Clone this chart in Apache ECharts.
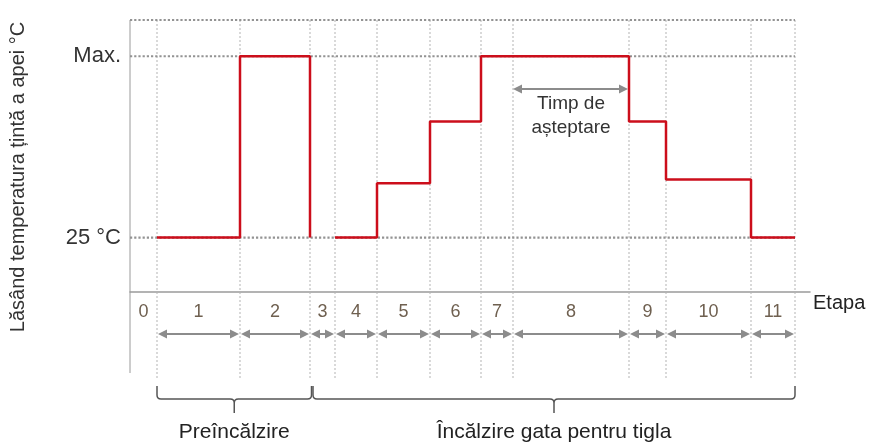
<!DOCTYPE html>
<html>
<head>
<meta charset="utf-8">
<script src="https://cdn.jsdelivr.net/npm/echarts@6/dist/echarts.min.js"></script>
<style>
	html, body { margin: 0; padding: 0; background: #fff; }
	#chart { width: 871px; height: 442px; }
</style>
</head>
<body>
<div id="chart"></div>
<script>
// stage boundaries on the time axis (arbitrary units), stages 0..11
var stageEdges = [0, 27, 110, 180, 205, 247, 300, 351, 383, 499, 536, 621, 665]
var stageNames = ['0', '1', '2', '3', '4', '5', '6', '7', '8', '9', '10', '11']
// target water temperature for each stage, null = no line drawn
var stageTemps = [null, 25, 75, null, 25, 40, 57, 75, 75, 57, 41, 25]
var baseTemp = 25
var tempLabels = { 25: '25 °C', 75: 'Max.' }
var guideLevels = [25, 75, 85]
var phaseNames = ['Preîncălzire', 'Încălzire gata pentru tigla']
var phaseStages = [[1, 2], [3, 11]]
var waitStage = 8
var waitLevel = 66
var waitText = 'Timp de\nașteptare'

var yMin = 10
var yMax = 85
var FONT = '"Liberation Sans", Arial, sans-serif'
var GRAY = '#8c8c8c'

var chart = echarts.init(document.getElementById('chart'))

// step profile, split where a stage has no target
function buildSegments() {
	var segs = []
	var cur = null
	for (var i = 0; i < stageTemps.length; i++) {
		var t = stageTemps[i]
		if (t == null) {
			cur = null
			continue
		}
		if (!cur) {
			cur = []
			segs.push(cur)
		}
		cur.push([stageEdges[i], t], [stageEdges[i + 1], t])
		if (i + 1 < stageTemps.length && stageTemps[i + 1] == null) {
			cur.push([stageEdges[i + 1], baseTemp])
		}
	}
	return segs
}

function arrow(x1, x2, y) {
	var h = 9, w = 4.5
	return {
		type: 'group',
		children: [
			{ type: 'line', shape: { x1: x1 + h - 1, y1: y, x2: x2 - h + 1, y2: y }, style: { stroke: GRAY, lineWidth: 2 } },
			{ type: 'polygon', shape: { points: [[x1, y], [x1 + h, y - w], [x1 + h, y + w]] }, style: { fill: GRAY } },
			{ type: 'polygon', shape: { points: [[x2, y], [x2 - h, y - w], [x2 - h, y + w]] }, style: { fill: GRAY } },
		],
	}
}

function renderEdge(params, api) {
	var x = api.value(0)
	var top = api.coord([x, yMax])
	var bottom = api.coord([x, yMin])
	var first = params.dataIndex === 0
	return {
		type: 'line',
		shape: { x1: top[0], y1: top[1], x2: bottom[0], y2: bottom[1] + (first ? 81 : 86) },
		style: first ? { stroke: '#9a9a9a', lineWidth: 1 } : { stroke: '#b4b4b4', lineWidth: 1, lineDash: [2, 2] },
	}
}

function renderGuide(params, api) {
	var lvl = api.value(1)
	var a = api.coord([0, lvl])
	var b = api.coord([stageEdges[stageEdges.length - 1], lvl])
	return {
		type: 'line',
		shape: { x1: a[0], y1: a[1], x2: b[0], y2: b[1] },
		style: { stroke: '#939393', lineWidth: 2.2, lineDash: [2.2, 2] },
	}
}

function renderStage(params, api) {
	var i = params.dataIndex
	var a = api.coord([stageEdges[i], yMin])
	var b = api.coord([stageEdges[i + 1], yMin])
	var children = [{
		type: 'text',
		x: (a[0] + b[0]) / 2,
		y: a[1] + 20,
		style: { text: stageNames[i], fill: '#6f6050', fontSize: 18, fontFamily: FONT, align: 'center', verticalAlign: 'middle' },
	}]
	if (i > 0) children.push(arrow(a[0] + 1, b[0] - 1, a[1] + 42))
	return { type: 'group', children: children }
}

function renderPhase(params, api) {
	var p = phaseStages[params.dataIndex]
	var a = api.coord([stageEdges[p[0]], yMin])
	var b = api.coord([stageEdges[p[1] + 1], yMin])
	var x0 = a[0] + (params.dataIndex > 0 ? 3 : 0)
	var x1 = b[0] + (params.dataIndex > 0 ? 0 : 1.5)
	var yt = a[1] + 94, ym = a[1] + 107, yb = a[1] + 121, r = 4
	var xm = (x0 + x1) / 2
	var d = 'M' + x0 + ' ' + yt + ' L' + x0 + ' ' + (ym - r) + ' Q' + x0 + ' ' + ym + ' ' + (x0 + r) + ' ' + ym +
		' L' + (xm - r) + ' ' + ym + ' Q' + xm + ' ' + ym + ' ' + xm + ' ' + (ym + r) + ' L' + xm + ' ' + yb +
		' M' + xm + ' ' + (ym + r) + ' Q' + xm + ' ' + ym + ' ' + (xm + r) + ' ' + ym +
		' L' + (x1 - r) + ' ' + ym + ' Q' + x1 + ' ' + ym + ' ' + x1 + ' ' + (ym - r) + ' L' + x1 + ' ' + yt
	return {
		type: 'group',
		children: [
			{ type: 'path', shape: { pathData: d }, style: { stroke: '#555', lineWidth: 1.5, fill: null } },
			{
				type: 'text', x: xm, y: a[1] + 140,
				style: { text: phaseNames[params.dataIndex], fill: '#222', fontSize: 21, fontFamily: FONT, align: 'center', verticalAlign: 'middle' },
			},
		],
	}
}

function renderWait(params, api) {
	var a = api.coord([stageEdges[waitStage], waitLevel])
	var b = api.coord([stageEdges[waitStage + 1], waitLevel])
	return {
		type: 'group',
		children: [
			arrow(a[0], b[0] - 1, a[1]),
			{
				type: 'text', x: (a[0] + b[0]) / 2, y: a[1] + 3,
				style: { text: waitText, fill: '#333', fontSize: 19, lineHeight: 24, fontFamily: FONT, align: 'center', verticalAlign: 'top' },
			},
		],
	}
}

var series = [
	{ type: 'custom', renderItem: renderEdge, data: stageEdges.map(function(e) { return [e, yMax] }), clip: false, silent: true, z: 1 },
	{ type: 'custom', renderItem: renderGuide, data: guideLevels.map(function(l) { return [0, l] }), silent: true, z: 2 },
	{ type: 'custom', renderItem: renderStage, data: stageNames.map(function(n, i) { return [stageEdges[i], yMin] }), clip: false, silent: true, z: 2 },
	{ type: 'custom', renderItem: renderPhase, data: phaseNames.map(function(n, i) { return [stageEdges[phaseStages[i][0]], yMin] }), clip: false, silent: true, z: 2 },
	{ type: 'custom', renderItem: renderWait, data: [[stageEdges[waitStage], waitLevel]], silent: true, z: 4 },
]
buildSegments().forEach(function(seg) {
	series.push({
		type: 'line',
		data: seg,
		showSymbol: false,
		silent: true,
		z: 5,
		lineStyle: { color: '#cc0e1b', width: 2.5 },
	})
})

chart.setOption({
	animation: false,
	textStyle: { fontFamily: FONT },
	grid: { left: 130, right: 61, top: 20, bottom: 150 },
	graphic: [{
		type: 'text',
		x: 18,
		y: 177,
		rotation: Math.PI / 2,
		style: { text: 'Lăsând temperatura țintă a apei °C', fill: '#333', fontSize: 20, fontFamily: FONT, align: 'center', verticalAlign: 'middle' },
	}],
	xAxis: {
		type: 'value',
		min: 0,
		max: 680,
		name: 'Etapa',
		nameLocation: 'end',
		nameGap: 3,
		nameTextStyle: { color: '#222', fontSize: 20, verticalAlign: 'top', padding: [1, 0, 0, 0] },
		axisLine: { show: true, lineStyle: { color: '#9a9a9a', width: 1.5 } },
		axisTick: { show: false },
		axisLabel: { show: false },
		splitLine: { show: false },
	},
	yAxis: {
		type: 'value',
		min: yMin,
		max: yMax,
		interval: 5,
		axisLine: { show: false },
		axisTick: { show: false },
		splitLine: { show: false },
		axisLabel: {
			margin: 9,
			color: '#333',
			fontSize: 22,
			formatter: function(v) {
				return tempLabels[v] || ''
			},
		},
	},
	series: series,
})
</script>
</body>
</html>
